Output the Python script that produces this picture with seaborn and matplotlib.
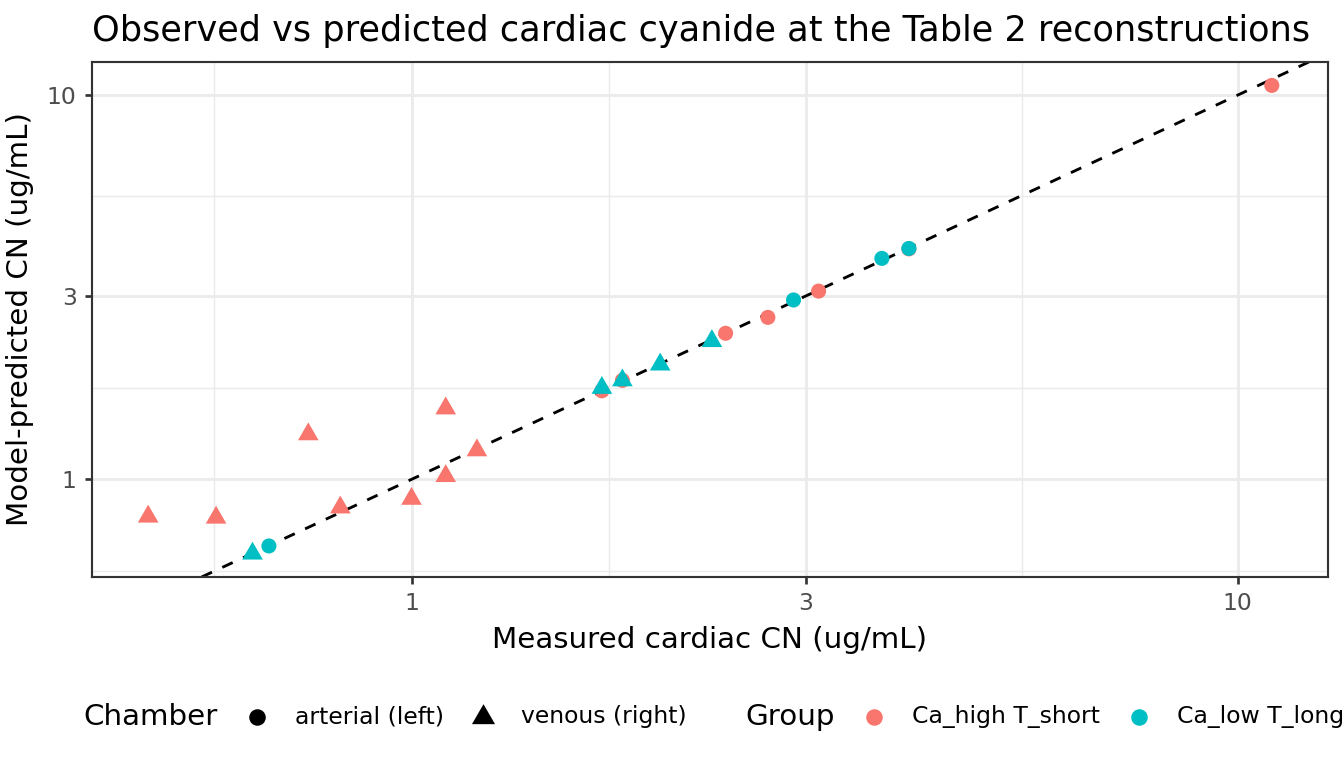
import numpy as np
import pandas as pd
import matplotlib
matplotlib.use('Agg')
import matplotlib.pyplot as plt
from matplotlib.lines import Line2D
from matplotlib.offsetbox import HPacker, TextArea, DrawingArea, AnchoredOffsetbox
import seaborn as sns

# ---- data (ug/mL) ----
high_ven_measured  = [0.48, 0.58, 0.75, 0.82, 1.00, 1.10, 1.10, 1.20]
high_ven_predicted = [0.80, 0.795, 1.31, 0.845, 0.89, 1.53, 1.02, 1.19]

high_art_measured  = [1.70, 1.80, 2.40, 2.70, 3.11, 4.00, 11.0]
high_art_predicted = [1.70, 1.81, 2.40, 2.64, 3.09, 3.98, 10.6]

low_ven_measured   = [0.642, 1.70, 1.80, 2.00, 2.31]
low_ven_predicted  = [0.641, 1.73, 1.81, 1.99, 2.29]

low_art_measured   = [0.672, 2.90, 3.71, 4.00]
low_art_predicted  = [0.671, 2.93, 3.76, 3.99]

groups   = ['Ca_high T_short', 'Ca_low T_long']
chambers = ['arterial (left)', 'venous (right)']
tick_vals   = [1, 3, 10]
tick_labels = ['1', '3', '10']

palette = {'Ca_high T_short': '#F8766D', 'Ca_low T_long': '#00BFC4'}
tri = [(0, 1), (-0.866, -0.5), (0.866, -0.5)]   # ggplot-like filled triangle
markers = {'arterial (left)': 'o', 'venous (right)': tri}
msize = {'arterial (left)': 32, 'venous (right)': 80}


def block(meas, pred, group, chamber):
    return pd.DataFrame({'measured': meas, 'predicted': pred,
                         'group': group, 'chamber': chamber})


df = pd.concat([
    block(high_ven_measured, high_ven_predicted, groups[0], chambers[1]),
    block(high_art_measured, high_art_predicted, groups[0], chambers[0]),
    block(low_ven_measured, low_ven_predicted, groups[1], chambers[1]),
    block(low_art_measured, low_art_predicted, groups[1], chambers[0]),
], ignore_index=True)

sns.set_theme(style='white')
plt.rcParams['font.family'] = ['DejaVu Sans']
plt.rcParams['text.color'] = 'black'
plt.rcParams['axes.labelcolor'] = 'black'

fig, ax = plt.subplots(figsize=(7, 4), dpi=192)
fig.subplots_adjust(left=92/1344, right=1328/1344, top=1-62/768, bottom=1-577/768)

for ch in chambers:
    sub = df[df['chamber'] == ch]
    sns.scatterplot(data=sub, x='measured', y='predicted', hue='group',
                    palette=palette, marker=markers[ch], s=msize[ch],
                    linewidth=0, legend=False, ax=ax, zorder=3)

ax.set_xscale('log')
ax.set_yscale('log')

# ggplot-style 5% expansion in log space
def expand(v):
    lo, hi = np.log10(np.min(v)), np.log10(np.max(v))
    d = (hi - lo) * 0.05
    return 10**(lo - d), 10**(hi + d)

ax.set_xlim(*expand(df['measured']))
ax.set_ylim(*expand(df['predicted']))

# identity line
ax.axline((1, 1), (10, 10), color='black', lw=1.07, ls=(0, (4, 4)), zorder=2)

# ticks and grid
lt = np.log10(tick_vals)
minor = 10**np.concatenate([[lt[0] - (lt[1] - lt[0]) / 2], (lt[:-1] + lt[1:]) / 2])
for axis in (ax.xaxis, ax.yaxis):
    axis.set_major_locator(matplotlib.ticker.FixedLocator(tick_vals))
    axis.set_major_formatter(matplotlib.ticker.FixedFormatter(tick_labels))
    axis.set_minor_locator(matplotlib.ticker.FixedLocator(minor))
    axis.set_minor_formatter(matplotlib.ticker.NullFormatter())

ax.grid(True, which='major', color='#EBEBEB', lw=1.07, zorder=0)
ax.grid(True, which='minor', color='#EBEBEB', lw=0.55, zorder=0)
ax.set_axisbelow(True)
ax.tick_params(which='major', length=2.75, width=1.0, color='#333333',
               labelcolor='#4D4D4D', labelsize=8.8, pad=3,
               bottom=True, left=True)
ax.tick_params(which='minor', length=0)
for sp in ax.spines.values():
    sp.set_color('#333333')
    sp.set_linewidth(0.8)

ax.set_xlabel('Measured cardiac CN (ug/mL)', fontsize=11, labelpad=4)
ax.set_ylabel('Model-predicted CN (ug/mL)', fontsize=11, labelpad=5)
ax.set_title('Observed vs predicted cardiac cyanide at the Table 2 reconstructions',
             fontsize=13.2, loc='left', pad=8, color='black')

# ---- bottom legend, ggplot style ----
def key(marker, color, ms):
    da = DrawingArea(17.3, 17.3, 0, 0)
    da.add_artist(Line2D([8.65], [8.65], marker=marker, color=color,
                         markersize=ms, ls='', mew=0))
    return da


def txt(s, size):
    return TextArea(s, textprops=dict(fontsize=size, color='black'))


ch_box = HPacker(children=[txt('Chamber', 11),
                           key('o', 'black', 6.2), txt(chambers[0], 8.8),
                           key(tri, 'black', 10.0), txt(chambers[1], 8.8)],
                 align='center', pad=0, sep=5.8)
gr_box = HPacker(children=[txt('Group', 11),
                           key('o', palette[groups[0]], 6.2), txt(groups[0], 8.8),
                           key('o', palette[groups[1]], 6.2), txt(groups[1], 8.8)],
                 align='center', pad=0, sep=5.8)
leg = HPacker(children=[ch_box, gr_box], align='center', pad=0, sep=22)
pos = ax.get_position()
anchored = AnchoredOffsetbox(loc='center', child=leg, pad=0, borderpad=0,
                             frameon=False,
                             bbox_to_anchor=((pos.x0 + pos.x1) / 2 + 4/1344, 1 - 717/768),
                             bbox_transform=fig.transFigure)
fig.add_artist(anchored)

fig.savefig('out.png', dpi=192, facecolor='white')
